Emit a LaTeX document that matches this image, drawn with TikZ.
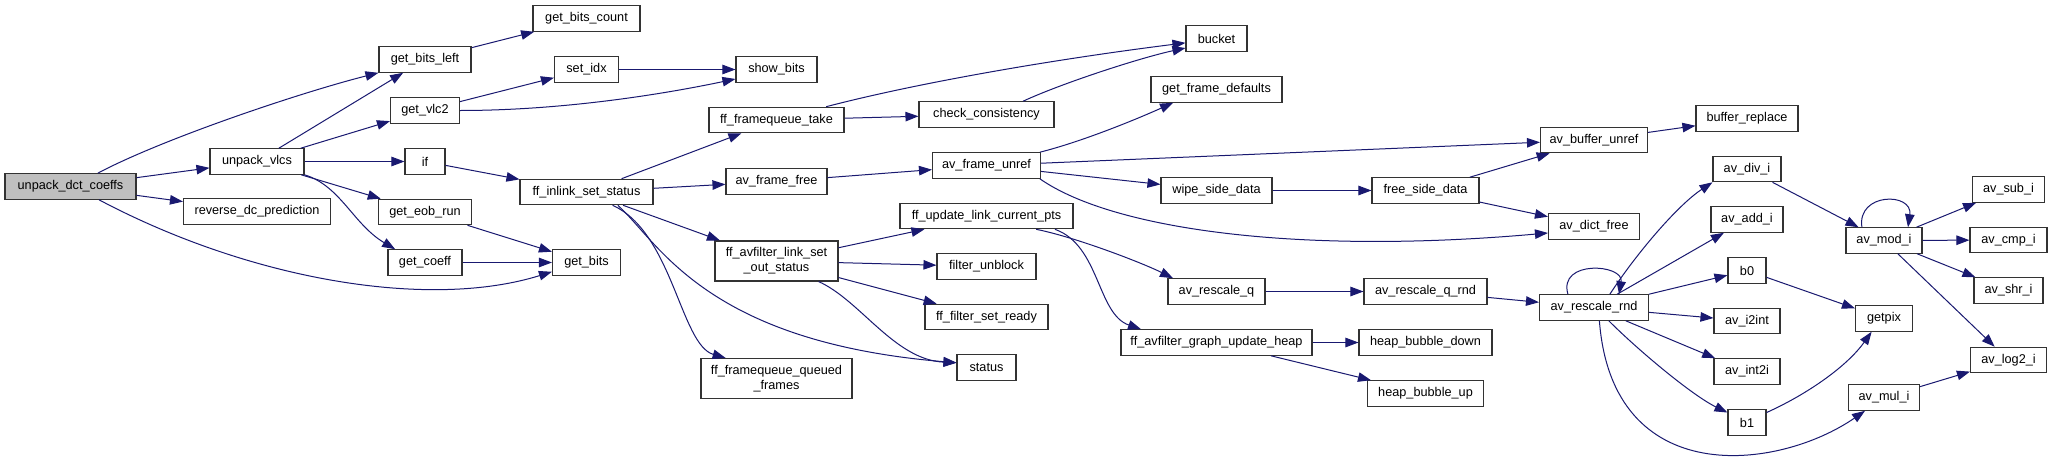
\documentclass[tikz,border=0pt]{standalone}
\usepackage{fontspec}
\setmainfont{Liberation Sans}
\usetikzlibrary{arrows.meta}
\definecolor{edgeC} {RGB}{ 25,  25, 112}
\definecolor{boxC}  {RGB}{ 51,  51,  51}
\definecolor{rootC} {RGB}{191, 191, 191}

\begin{document}
\begin{tikzpicture}[x=1pt, y=-1pt,
  fn/.style={draw=boxC, line width=1.1pt, fill=white, minimum height=25.5pt,
             inner xsep=2pt, inner ysep=1pt, align=center,
             font=\fontsize{12.7}{15}\selectfont},
  twoline/.style={fn, minimum height=40pt},
  call/.style={edgeC, line width=1pt, -{Triangle[length=13pt, width=9.5pt]}}]

% Canvas: 1 unit = 1 px of the 2052x466 graph, y grows downwards
\useasboundingbox (0,0) rectangle (2052,466);
\fill[white] (0,0) rectangle (2052,466);

% ============================================================
% NODES — one column per call depth
% ============================================================

% Depth 0 (the documented function)
\node[fn, fill=rootC, minimum width=131pt] (root) at (70.5,186.5) {unpack\_dct\_coeffs};

% Depth 1
\foreach \n/\y/\w/\t in {vlcs/161.5/94/unpack\_vlcs, revdc/211.5/147/reverse\_dc\_prediction}{
  \node[fn, minimum width=\w pt] (\n) at (257,\y) {\t};
}

% Depth 2
\foreach \n/\y/\w/\t in {gbl/59.5/92/get\_bits\_left, vlc2/110.5/69/get\_vlc2,
    ifn/161.5/40/if, eob/212/93/get\_eob\_run, coeff/262.5/74/get\_coeff}{
  \node[fn, minimum width=\w pt] (\n) at (425,\y) {\t};
}

% Depth 3
\foreach \n/\y/\w/\t in {gbc/18.5/107/get\_bits\_count, setidx/69.5/64/set\_idx,
    inlink/192/133/ff\_inlink\_set\_status, bits/262.5/68/get\_bits}{
  \node[fn, minimum width=\w pt] (\n) at (586.5,\y) {\t};
}

% Depth 4
\foreach \n/\y/\w/\t in {showbits/69.5/81/show\_bits, fqtake/120/135/ff\_framequeue\_take,
    frfree/181.5/101/av\_frame\_free}{
  \node[fn, minimum width=\w pt] (\n) at (776.5,\y) {\t};
}
\node[twoline, minimum width=123pt] (linkout) at (776.5,261)
  {ff\_avfilter\_link\_set\\\_out\_status};
\node[twoline, minimum width=151pt] (fqq) at (776.5,378.5)
  {ff\_framequeue\_queued\\\_frames};

% Depth 5
\foreach \n/\y/\w/\t in {checkc/114.5/135/check\_consistency, frunref/165.5/108/av\_frame\_unref,
    ulcp/216/173/ff\_update\_link\_current\_pts, unblock/266.5/99/filter\_unblock,
    setready/317/123/ff\_filter\_set\_ready, status/367.5/59/status}{
  \node[fn, minimum width=\w pt] (\n) at (986.5,\y) {\t};
}

% Depth 6
\foreach \n/\y/\w/\t in {bucket/38.5/61/bucket, gfd/89.5/131/get\_frame\_defaults,
    wipe/190.5/111/wipe\_side\_data, rescq/291.5/97/av\_rescale\_q,
    guheap/342.5/191/ff\_avfilter\_graph\_update\_heap}{
  \node[fn, minimum width=\w pt] (\n) at (1216.5,\y) {\t};
}

% Depth 7
\foreach \n/\y/\w/\t in {freeside/190.5/107/free\_side\_data, rescqrnd/291.5/123/av\_rescale\_q\_rnd,
    hbdown/342.5/133/heap\_bubble\_down, hbup/393.5/116/heap\_bubble\_up}{
  \node[fn, minimum width=\w pt] (\n) at (1425.5,\y) {\t};
}

% Depth 8
\foreach \n/\y/\w/\t in {bufunref/140/107/av\_buffer\_unref, dictfree/226.5/91/av\_dict\_free,
    rescrnd/307.5/109/av\_rescale\_rnd}{
  \node[fn, minimum width=\w pt] (\n) at (1594,\y) {\t};
}

% Depth 9
\foreach \n/\y/\w/\t in {bufrep/118.5/102/buffer\_replace, divi/169/68/av\_div\_i,
    addi/219.5/72/av\_add\_i, b0/270.5/38/b0, i2int/321/66/av\_i2int,
    int2i/371.5/66/av\_int2i, b1/422.5/38/b1}{
  \node[fn, minimum width=\w pt] (\n) at (1747,\y) {\t};
}

% Depth 10
\foreach \n/\y/\w/\t in {modi/240.5/76/av\_mod\_i, getpix/318.5/57/getpix, muli/397.5/71/av\_mul\_i}{
  \node[fn, minimum width=\w pt] (\n) at (1884,\y) {\t};
}

% Depth 11
\foreach \n/\y/\w/\t in {subi/189.5/72/av\_sub\_i, cmpi/240/77/av\_cmp\_i,
    shri/290.5/69/av\_shr\_i, log2i/360/76/av\_log2\_i}{
  \node[fn, minimum width=\w pt] (\n) at (2008.5,\y) {\t};
}

% ============================================================
% CALLS — straight ones, centre to centre
% ============================================================
\foreach \a/\b in {root/vlcs, root/revdc, vlcs/gbl, vlcs/vlc2, vlcs/ifn, vlcs/eob,
    gbl/gbc, vlc2/setidx, setidx/showbits, ifn/inlink, eob/bits, coeff/bits,
    inlink/fqtake, inlink/frfree, inlink/linkout, fqtake/checkc, frfree/frunref,
    frunref/bufunref, frunref/wipe, wipe/freeside, freeside/bufunref, freeside/dictfree,
    bufunref/bufrep, linkout/ulcp, linkout/unblock, linkout/setready,
    rescq/rescqrnd, rescqrnd/rescrnd, guheap/hbdown, guheap/hbup,
    rescrnd/addi, rescrnd/b0, rescrnd/i2int, rescrnd/int2i,
    divi/modi, modi/subi, modi/cmpi, modi/shri, modi/log2i, b0/getpix, muli/log2i}{
  \draw[call] (\a) -- (\b);
}

% ============================================================
% CALLS — curved splines
% ============================================================
\draw[call] (root.26)  .. controls +(64,-34) and +(-79,20) .. (gbl.south west);
\draw[call] (root.-25) .. controls +(153,81) and +(-122,38) .. (bits.195);
\draw[call] (vlcs.south east) .. controls +(36,11) and +(-42,-25) .. (coeff.156);
\draw[call] (vlc2.east) .. controls +(100,0) and +(-76,16) .. (showbits.193);

% ff_inlink_set_status fan-out downwards
\draw[call] (inlink.-23) .. controls +(41,37) and +(-252,-21) .. (status.171);
\draw[call] (inlink.-27) .. controls +(60,27) and +(-45,-13) .. (fqq.158);
\draw[call] (linkout.-26) .. controls +(42,19) and +(-62,-3) .. (status.171);

% frame queue / frame unref
\draw[call] (fqtake.15) .. controls +(100,-26) and +(-120,15) .. (bucket.188);
\draw[call] (checkc.20) .. controls +(39,-18) and +(-46,10) .. (bucket.197);
\draw[call] (frunref.14) .. controls +(40,-10) and +(-40,18) .. (gfd.197);
\draw[call] (frunref.-14) .. controls +(73,51) and +(-248,22) .. (dictfree.188);

% link pts update
\draw[call] (ulcp.-15) .. controls +(40,8) and +(-30,-15) .. (rescq.163);
\draw[call] (ulcp.-11) .. controls +(45,16) and +(-44,-15) .. (guheap.170);

% rescale / integer maths
\draw[call] (rescrnd.153) .. controls +(-10,-35) and +(5,-30) .. (rescrnd.28);
\draw[call] (rescrnd.40)  .. controls +(26,-40) and +(-35,23) .. (divi.south west);
\draw[call] (rescrnd.-42) .. controls +(30,30) and +(-35,-17) .. (b1.153);
\draw[call] (rescrnd.-68) .. controls +(13,170) and +(-87,60) .. (muli.215);
\draw[call] (modi.149) .. controls +(-5,-35) and +(5,-35) .. (modi.29);
\draw[call] (b1.27) .. controls +(40,-18) and +(-25,35) .. (getpix.227);

\end{tikzpicture}
\end{document}
